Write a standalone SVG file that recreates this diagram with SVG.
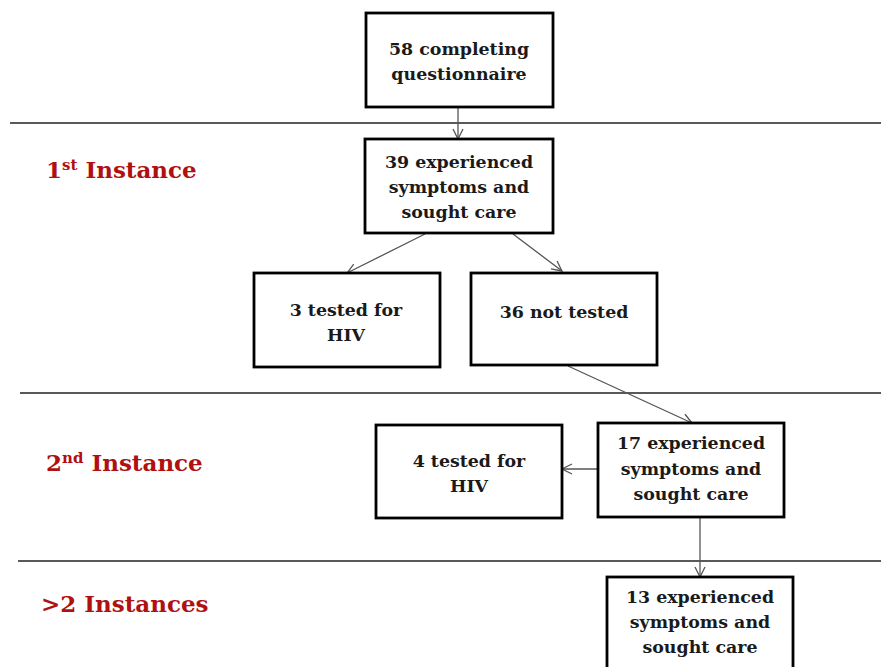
<svg xmlns="http://www.w3.org/2000/svg" width="881" height="667" viewBox="0 0 881 667">
<style>
.box{fill:#fff;stroke:#000;stroke-width:2.8}
.t{font-family:"DejaVu Serif","Liberation Serif",serif;font-weight:bold;font-size:17.4px;fill:#1a1a1a;text-anchor:middle}
.lab{font-family:"DejaVu Serif","Liberation Serif",serif;font-weight:bold;font-size:23px;fill:#b01010}
.sep{stroke:#222;stroke-width:1.3}
.c{stroke:#555;stroke-width:1.3;fill:none;marker-end:url(#a)}
</style>
<defs>
<marker id="a" viewBox="0 0 12 12" refX="11" refY="6" markerWidth="12" markerHeight="12" markerUnits="userSpaceOnUse" orient="auto">
<path d="M1,1 L11,6 L1,11" fill="none" stroke="#555" stroke-width="1.3"/>
</marker>
</defs>
<g id="separators">
<line class="sep" x1="10" y1="123" x2="881" y2="123"/>
<line class="sep" x1="20" y1="393" x2="881" y2="393"/>
<line class="sep" x1="18" y1="561" x2="881" y2="561"/>
</g>
<g id="labels">
<text class="lab" x="46" y="178">1<tspan font-size="15" dy="-8">st</tspan><tspan dy="8"> Instance</tspan></text>
<text class="lab" x="46" y="471">2<tspan font-size="15" dy="-8">nd</tspan><tspan dy="8"> Instance</tspan></text>
<text class="lab" x="41" y="612">&gt;2 Instances</text>
</g>
<g id="connectors">
<line class="c" x1="458" y1="107" x2="458" y2="139"/>
<line class="c" x1="425" y1="234" x2="347" y2="273"/>
<line class="c" x1="513" y1="234" x2="562" y2="271"/>
<line class="c" x1="568" y1="366" x2="692" y2="423"/>
<line class="c" x1="598" y1="469" x2="562" y2="469"/>
<line class="c" x1="700" y1="517" x2="700" y2="577"/>
</g>
<g id="n1"><rect class="box" x="366" y="13" width="187" height="94"/>
<text class="t" x="459" y="55">58 completing</text><text class="t" x="459" y="80">questionnaire</text></g>
<g id="n2"><rect class="box" x="365" y="139" width="188" height="94"/>
<text class="t" x="459" y="168">39 experienced</text><text class="t" x="459" y="193">symptoms and</text><text class="t" x="459" y="218">sought care</text></g>
<g id="n3"><rect class="box" x="254" y="273" width="186" height="94"/>
<text class="t" x="346" y="316">3 tested for</text><text class="t" x="346" y="341">HIV</text></g>
<g id="n4"><rect class="box" x="471" y="273" width="186" height="92"/>
<text class="t" x="564" y="318">36 not tested</text></g>
<g id="n5"><rect class="box" x="376" y="425" width="186" height="93"/>
<text class="t" x="469" y="467">4 tested for</text><text class="t" x="469" y="492">HIV</text></g>
<g id="n6"><rect class="box" x="598" y="423" width="186" height="94"/>
<text class="t" x="691" y="449">17 experienced</text><text class="t" x="691" y="475">symptoms and</text><text class="t" x="691" y="500">sought care</text></g>
<g id="n7"><rect class="box" x="607" y="577" width="186" height="95"/>
<text class="t" x="700" y="603">13 experienced</text><text class="t" x="700" y="628">symptoms and</text><text class="t" x="700" y="653">sought care</text></g>
</svg>
